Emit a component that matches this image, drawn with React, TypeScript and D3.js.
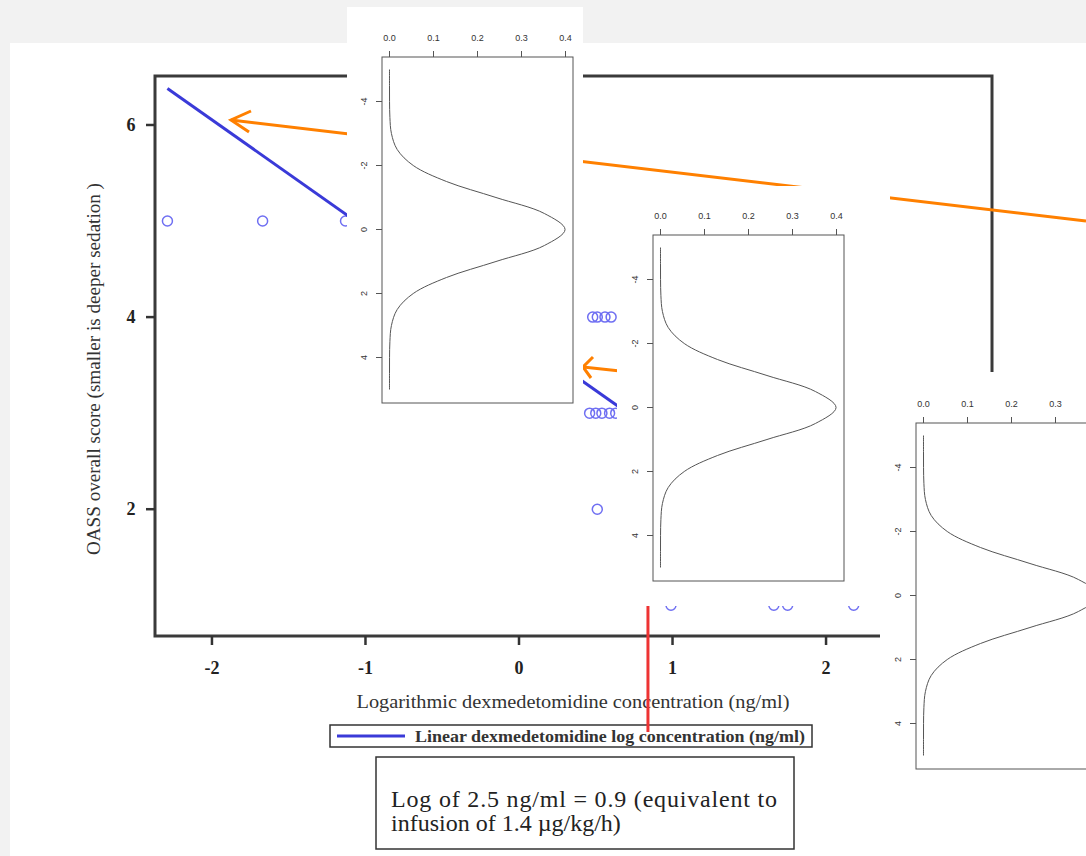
import React from 'react';
import * as d3 from 'd3';

// observed points (log concentration, OASS score)
const pointX = [-2.29, -1.67, -1.13, 0.48, 0.51, 0.56, 0.60, 0.46, 0.50, 0.54, 0.59, 0.63, 0.51, 0.99, 1.66, 1.75, 2.18];
const pointY = [5, 5, 5, 4, 4, 4, 4, 3, 3, 3, 3, 3, 2, 1, 1, 1, 1];

// fitted linear line ends
const fitX = [-2.29, 2.2];
const fitY = [6.38, 1.32];

const xTicks = [-2, -1, 0, 1, 2];
const yTicks = [2, 4, 6];

const markerX = 0.84; // log of 2.5 ng/ml as drawn

// density curve
const densZ = [-5, -4.5, -4, -3.5, -3, -2.5, -2, -1.5, -1, -0.5, 0, 0.5, 1, 1.5, 2, 2.5, 3, 3.5, 4, 4.5, 5];
const densVal = [0, 0, 0.0001, 0.0009, 0.0044, 0.0175, 0.054, 0.1295, 0.242, 0.352, 0.399, 0.352, 0.242, 0.1295, 0.054, 0.0175, 0.0044, 0.0009, 0.0001, 0, 0];
const densTicksX = [0, 0.1, 0.2, 0.3, 0.4];
const densTicksY = [-4, -2, 0, 2, 4];

const serif = '"Liberation Serif", "Times New Roman", serif';
const sans = '"Liberation Sans", Arial, sans-serif';

function Inset({ left, top, box }: { left: number; top: number; box: [number, number, number, number] }) {
  const w = 191, h = 346;
  const x = d3.scaleLinear().domain([0, 0.4]).range([left + 7.5, left + 183.5]);
  const y = d3.scaleLinear().domain([-5, 5]).range([top + 12.5, top + 332.5]);
  const line = d3.line<number>()
    .x((d, i) => x(densVal[i]))
    .y((d) => y(d))
    .curve(d3.curveCatmullRom);
  return (
    <g>
      <rect x={box[0]} y={box[1]} width={box[2]} height={box[3]} fill="#fff" />
      <rect x={left} y={top} width={w} height={h} fill="none" stroke="#555" strokeWidth={1} />
      {densTicksX.filter((t) => x(t) < 1078).map((t) => (
        <g key={t}>
          <line x1={x(t)} x2={x(t)} y1={top} y2={top - 6} stroke="#555" />
          <text x={x(t)} y={top - 16} fontSize={9} fontFamily={sans} fill="#333" textAnchor="middle">{t.toFixed(1)}</text>
        </g>
      ))}
      {densTicksY.map((t) => (
        <g key={t}>
          <line x1={left} x2={left - 6} y1={y(t)} y2={y(t)} stroke="#555" />
          <text transform={`translate(${left - 15},${y(t)}) rotate(-90)`} fontSize={9} fontFamily={sans} fill="#333" textAnchor="middle">{t}</text>
        </g>
      ))}
      <path d={line(densZ) || ''} fill="none" stroke="#555" strokeWidth={1} />
    </g>
  );
}

export default function App() {
  const x = d3.scaleLinear().domain([-2.371, 3.081]).range([155, 992]);
  const y = d3.scaleLinear().domain([0.68, 6.51]).range([636, 76]);
  const fit = d3.line<number>().x((d) => x(d)).y((d, i) => y(fitY[i]));

  return (
    <svg width={1086} height={856} style={{ position: 'absolute', left: 0, top: 0 }}>
      <rect x={0} y={0} width={1086} height={856} fill="#f2f2f2" />
      <rect x={10} y={43} width={1076} height={813} fill="#fff" />

      {/* main plot */}
      {pointX.map((px, i) => (
        <circle key={i} cx={x(px)} cy={y(pointY[i])} r={5} fill="none" stroke="#6f6ff2" strokeWidth={1.5} />
      ))}
      <path d={fit(fitX) || ''} stroke="#3a3ad8" strokeWidth={3} fill="none" />
      <rect x={155} y={76} width={837} height={560} fill="none" stroke="#3a3a3a" strokeWidth={3} />
      {xTicks.map((t) => (
        <g key={t}>
          <line x1={x(t)} x2={x(t)} y1={636} y2={645} stroke="#333" strokeWidth={2.5} />
          <text x={x(t)} y={674} fontSize={18} fontWeight="bold" fontFamily={serif} fill="#222" textAnchor="middle">{t}</text>
        </g>
      ))}
      {yTicks.map((t) => (
        <g key={t}>
          <line x1={155} x2={146} y1={y(t)} y2={y(t)} stroke="#333" strokeWidth={2.5} />
          <text x={131} y={y(t) + 6} fontSize={18} fontWeight="bold" fontFamily={serif} fill="#222" textAnchor="middle">{t}</text>
        </g>
      ))}
      <text x={573} y={708} fontSize={19} fontFamily={serif} fill="#333" textAnchor="middle" textLength={433} lengthAdjust="spacingAndGlyphs">Logarithmic dexmedetomidine concentration (ng/ml)</text>
      <text transform="translate(100,369) rotate(-90)" fontSize={18} fontFamily={serif} fill="#333" textAnchor="middle" textLength={372} lengthAdjust="spacingAndGlyphs">OASS overall score (smaller is deeper sedation )</text>

      {/* legend */}
      <rect x={330} y={725} width={482} height={22} fill="#fff" stroke="#333" strokeWidth={1.5} />
      <line x1={337} x2={405} y1={736} y2={736} stroke="#3a3ad8" strokeWidth={3} />
      <text x={415} y={742} fontSize={17} fontWeight="bold" fontFamily={serif} fill="#333" textLength={390} lengthAdjust="spacingAndGlyphs">Linear dexmedetomidine log concentration (ng/ml)</text>

      {/* annotation */}
      <rect x={376} y={757} width={418} height={92} fill="#fff" stroke="#333" strokeWidth={1.5} />
      <text x={391} y={807} fontSize={24} fontFamily={serif} fill="#222" textLength={386} lengthAdjust="spacing">Log of 2.5 ng/ml = 0.9 (equivalent to</text>
      <text x={391} y={831} fontSize={24} fontFamily={serif} fill="#222">infusion of 1.4 µg/kg/h)</text>

      {/* marker */}
      <line x1={x(markerX)} x2={x(markerX)} y1={y(1)} y2={732} stroke="#ee3333" strokeWidth={3} />

      {/* arrows */}
      <g stroke="#ff8000" strokeWidth={3} fill="none">
        <line x1={231} y1={120} x2={1086} y2={221} />
        <polyline points="251,111 231,120 249,132" />
        <line x1={583} y1={367} x2={890} y2={400} />
        <polyline points="593,357 583,367 591,378" />
      </g>

      <Inset left={382} top={57} box={[347, 7, 236, 423]} />
      <Inset left={653} top={235} box={[617, 186, 273, 420]} />
      <Inset left={916} top={423} box={[880, 372, 206, 404]} />
    </svg>
  );
}
